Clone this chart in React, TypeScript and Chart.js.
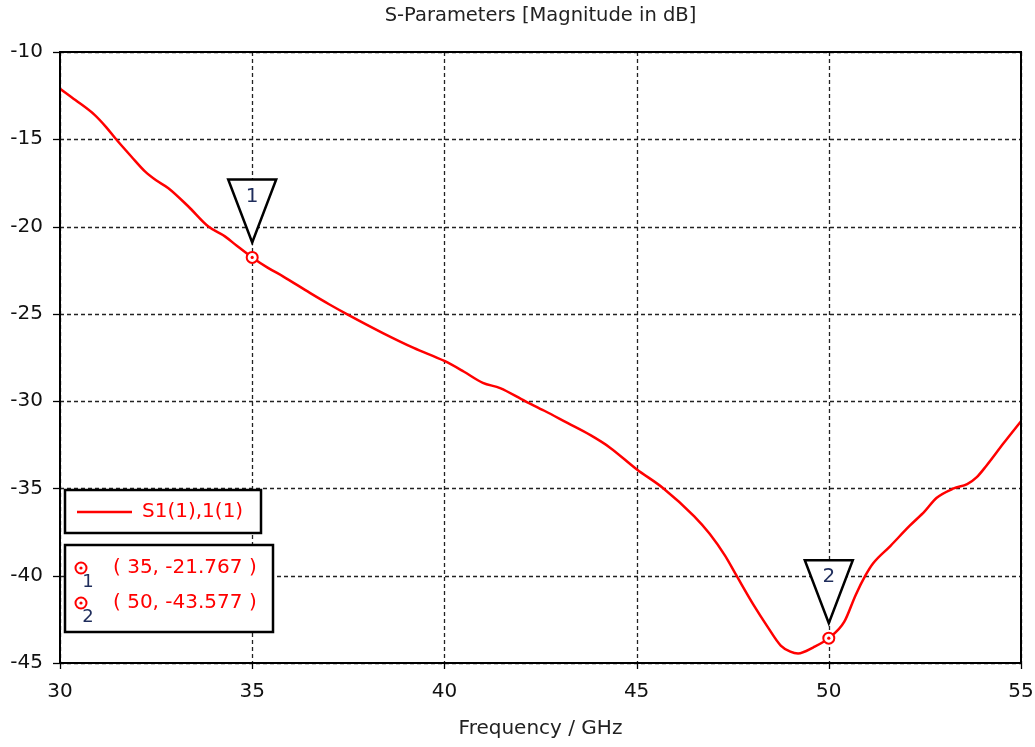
import React, { useEffect, useRef } from 'react';
import { Chart, registerables } from 'chart.js';

Chart.register(...registerables);

// ---- data ----
const freqGHz = [
  30.0, 30.4, 30.9, 31.2, 31.46, 31.86, 32.21, 32.5, 32.82, 33.34, 33.86, 34.29, 34.6, 35.0,
  35.4, 35.8, 36.5, 37.0, 37.45, 38.4, 39.2, 40.0, 40.5, 41.0, 41.45, 42.1, 42.6, 43.2,
  43.8, 44.3, 45.0, 45.7, 46.5, 46.9, 47.3, 47.6, 48.05, 48.4, 48.75, 49.0, 49.2, 49.6,
  50.0, 50.4, 50.7, 50.95, 51.15, 51.6, 52.1, 52.5, 52.8, 53.25, 53.6, 53.85, 54.1, 54.55,
  55.0,
];
const s11dB = [
  -12.1, -12.75, -13.6, -14.3, -15.0, -16.0, -16.84, -17.35, -17.8, -18.85, -20.0, -20.56, -21.1, -21.767,
  -22.35, -22.85, -23.8, -24.45, -25.0, -26.1, -26.95, -27.7, -28.3, -28.95, -29.25, -30.0, -30.55, -31.25,
  -31.95, -32.65, -33.9, -35.0, -36.6, -37.6, -38.85, -40.0, -41.7, -42.9, -44.0, -44.35, -44.45, -44.1,
  -43.577, -42.65, -41.1, -40.0, -39.3, -38.3, -37.15, -36.3, -35.55, -35.0, -34.75, -34.35, -33.7, -32.4,
  -31.15,
];
const markerFreq = [35, 50];
const markerDb = [-21.767, -43.577];
const markerIds = ['1', '2'];
const xTicks = [30, 35, 40, 45, 50, 55];
const yTicks = [-10, -15, -20, -25, -30, -35, -40, -45];
const chartTitle = 'S-Parameters [Magnitude in dB]';
const xTitle = 'Frequency / GHz';
const seriesLabel = 'S1(1),1(1)';

const FONT = '"DejaVu Sans", Verdana, sans-serif';
const RED = '#ff0000';
const NAVY = '#1f2d5c';

function drawMarker(ctx: CanvasRenderingContext2D, x: number, y: number) {
  ctx.save();
  ctx.beginPath();
  ctx.arc(x, y, 5.5, 0, Math.PI * 2);
  ctx.fillStyle = '#fff';
  ctx.fill();
  ctx.lineWidth = 2;
  ctx.strokeStyle = RED;
  ctx.stroke();
  ctx.beginPath();
  ctx.arc(x, y, 1.6, 0, Math.PI * 2);
  ctx.fillStyle = RED;
  ctx.fill();
  ctx.restore();
}

const decorPlugin = {
  id: 'decor',
  beforeDatasetsDraw(chart: any) {
    const ctx: CanvasRenderingContext2D = chart.ctx;
    const { left, right, top, bottom } = chart.chartArea;
    const xs = chart.scales.x;
    const ys = chart.scales.y;
    ctx.save();
    ctx.strokeStyle = '#222';
    ctx.lineWidth = 1.3;
    ctx.setLineDash([4, 3]);
    xTicks.forEach((v) => {
      const px = Math.round(xs.getPixelForValue(v)) + 0.5;
      ctx.beginPath();
      ctx.moveTo(px, top);
      ctx.lineTo(px, bottom);
      ctx.stroke();
    });
    yTicks.forEach((v) => {
      const py = Math.round(ys.getPixelForValue(v)) + 0.5;
      ctx.beginPath();
      ctx.moveTo(left, py);
      ctx.lineTo(right, py);
      ctx.stroke();
    });
    ctx.restore();
  },
  afterDraw(chart: any) {
    const ctx: CanvasRenderingContext2D = chart.ctx;
    const { left, right, top, bottom } = chart.chartArea;
    const xs = chart.scales.x;
    const ys = chart.scales.y;
    ctx.save();
    // frame
    ctx.strokeStyle = '#000';
    ctx.lineWidth = 2;
    ctx.strokeRect(left, top, right - left, bottom - top);
    // tick marks
    ctx.lineWidth = 1.3;
    yTicks.forEach((v) => {
      const py = Math.round(ys.getPixelForValue(v)) + 0.5;
      ctx.beginPath();
      ctx.moveTo(left - 7, py);
      ctx.lineTo(left, py);
      ctx.stroke();
    });
    xTicks.forEach((v) => {
      const px = Math.round(xs.getPixelForValue(v)) + 0.5;
      ctx.beginPath();
      ctx.moveTo(px, bottom);
      ctx.lineTo(px, bottom + 6);
      ctx.stroke();
    });

    // markers with triangles
    markerFreq.forEach((f, i) => {
      const mx = xs.getPixelForValue(f);
      const my = ys.getPixelForValue(markerDb[i]);
      drawMarker(ctx, mx, my);
      ctx.beginPath();
      ctx.moveTo(mx - 24, my - 78);
      ctx.lineTo(mx + 24, my - 78);
      ctx.lineTo(mx, my - 15);
      ctx.closePath();
      ctx.fillStyle = '#fff';
      ctx.fill();
      ctx.lineWidth = 2.5;
      ctx.strokeStyle = '#000';
      ctx.lineJoin = 'miter';
      ctx.stroke();
      ctx.fillStyle = NAVY;
      ctx.font = `20px ${FONT}`;
      ctx.textAlign = 'center';
      ctx.textBaseline = 'middle';
      ctx.fillText(markerIds[i], mx, my - 61);
    });

    // legend box 1
    ctx.lineWidth = 2.5;
    ctx.strokeStyle = '#000';
    ctx.fillStyle = '#fff';
    ctx.fillRect(65, 490, 196, 43);
    ctx.strokeRect(65, 490, 196, 43);
    ctx.beginPath();
    ctx.moveTo(77, 512);
    ctx.lineTo(132, 512);
    ctx.strokeStyle = RED;
    ctx.lineWidth = 2.5;
    ctx.stroke();
    ctx.fillStyle = RED;
    ctx.font = `20px ${FONT}`;
    ctx.textAlign = 'left';
    ctx.textBaseline = 'middle';
    ctx.fillText(seriesLabel, 142, 512);

    // legend box 2
    ctx.lineWidth = 2.5;
    ctx.strokeStyle = '#000';
    ctx.fillStyle = '#fff';
    ctx.fillRect(65, 545, 208, 87);
    ctx.strokeRect(65, 545, 208, 87);
    markerFreq.forEach((f, i) => {
      const ly = 568 + i * 35;
      drawMarker(ctx, 81, ly);
      ctx.fillStyle = NAVY;
      ctx.font = `18px ${FONT}`;
      ctx.textAlign = 'center';
      ctx.textBaseline = 'middle';
      ctx.fillText(markerIds[i], 88, ly + 14);
      ctx.fillStyle = RED;
      ctx.font = `20px ${FONT}`;
      ctx.textAlign = 'left';
      ctx.fillText(`( ${f}, ${markerDb[i]} )`, 113, ly);
    });

    // titles
    const cx = (left + right) / 2;
    ctx.fillStyle = '#222';
    ctx.textAlign = 'center';
    ctx.textBaseline = 'middle';
    ctx.font = `19.5px ${FONT}`;
    ctx.fillText(chartTitle, cx, 16);
    ctx.font = `20px ${FONT}`;
    ctx.fillText(xTitle, cx, 729);
    ctx.restore();
  },
};

export default function App() {
  const ref = useRef<HTMLCanvasElement | null>(null);
  useEffect(() => {
    if (!ref.current) return;
    const chart = new Chart(ref.current, {
      type: 'line',
      data: {
        datasets: [
          {
            label: seriesLabel,
            data: freqGHz.map((f, i) => ({ x: f, y: s11dB[i] })),
            borderColor: RED,
            borderWidth: 2.5,
            pointRadius: 0,
            cubicInterpolationMode: 'monotone',
            fill: false,
          },
        ],
      },
      options: {
        animation: false,
        responsive: false,
        devicePixelRatio: 1,
        layout: { padding: { left: 0, right: 14, top: 52, bottom: 0 } },
        plugins: { legend: { display: false }, title: { display: false }, tooltip: { enabled: false } },
        scales: {
          x: {
            type: 'linear',
            min: 30,
            max: 55,
            grid: { display: false, drawTicks: false },
            border: { display: false },
            afterBuildTicks: (s: any) => {
              s.ticks = xTicks.map((v) => ({ value: v }));
            },
            afterFit: (s: any) => {
              s.height = 84;
              s.paddingLeft = 0;
              s.paddingRight = 0;
            },
            ticks: {
              padding: 17,
              maxRotation: 0,
              autoSkip: false,
              color: '#111',
              font: { family: FONT, size: 20 },
            },
          },
          y: {
            type: 'linear',
            min: -45,
            max: -10,
            grid: { display: false, drawTicks: false },
            border: { display: false },
            afterBuildTicks: (s: any) => {
              s.ticks = yTicks.map((v) => ({ value: v }));
            },
            afterFit: (s: any) => {
              s.width = 60;
              s.paddingTop = 0;
              s.paddingBottom = 0;
            },
            ticks: {
              padding: 17,
              autoSkip: false,
              color: '#111',
              font: { family: FONT, size: 20 },
            },
          },
        },
      },
      plugins: [decorPlugin],
    } as any);
    return () => chart.destroy();
  }, []);
  return (
    <div style={{ position: 'absolute', left: 0, top: 0, width: 1035, height: 747, background: '#fff' }}>
      <canvas ref={ref} width={1035} height={747} style={{ display: 'block', width: 1035, height: 747 }} />
    </div>
  );
}
